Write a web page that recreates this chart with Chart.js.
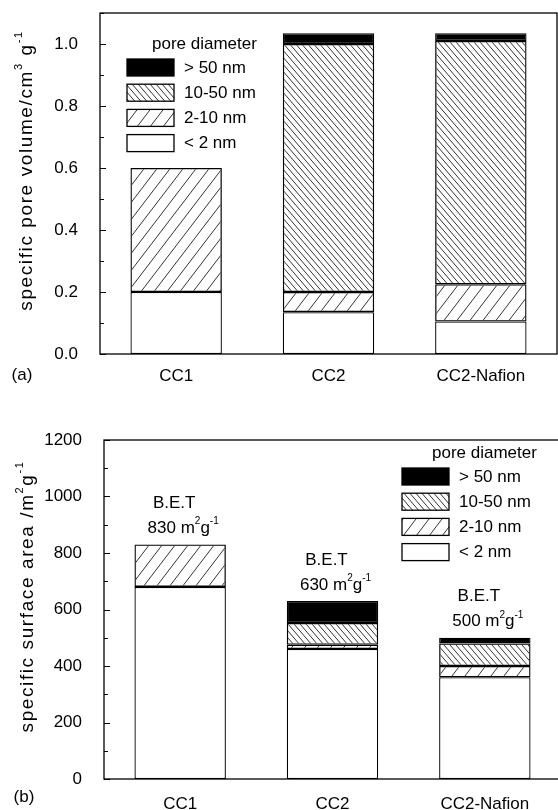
<!DOCTYPE html>
<html>
<head>
<meta charset="utf-8">
<script src="https://cdn.jsdelivr.net/npm/chart.js@4.4.1/dist/chart.umd.min.js"></script>
<style>
  html, body { margin: 0; padding: 0; background: #fff; overflow: hidden; }
  body { width: 558px; height: 810px; position: relative; }
  #volumeChart { position: absolute; left: 0; top: 0; }
  #areaChart { position: absolute; left: 0; top: 400px; }
</style>
</head>
<body>
<canvas id="volumeChart" width="558" height="400"></canvas>
<canvas id="areaChart" width="562" height="410"></canvas>
<script>
const samples = ['CC1', 'CC2', 'CC2-Nafion'];
const poreClasses = ['< 2 nm', '2-10 nm', '10-50 nm', '> 50 nm'];

// (a) specific pore volume, cm3/g
const volMicro = [0.2, 0.135, 0.105];
const volSmallMeso = [0.4, 0.065, 0.12];
const volLargeMeso = [0, 0.8, 0.785];
const volMacro = [0, 0.035, 0.025];

// (b) specific surface area, m2/g
const areaMicro = [680, 460, 360];
const areaSmallMeso = [150, 15, 40];
const areaLargeMeso = [0, 77, 80];
const areaMacro = [0, 78, 20];

const FONT = "'Liberation Sans', Arial, sans-serif";

// diagonal hatch tile, forward = '/', otherwise '\'
function hatch(w, h, forward) {
    const c = document.createElement('canvas');
    c.width = w;
    c.height = h;
    const g = c.getContext('2d');
    g.strokeStyle = '#333';
    g.lineWidth = 1;
    [-w, 0, w].forEach(dx => {
        g.beginPath();
        if (forward) {
            g.moveTo(dx, h);
            g.lineTo(dx + w, 0);
        } else {
            g.moveTo(dx, 0);
            g.lineTo(dx + w, h);
        }
        g.stroke();
    });
    return g.createPattern(c, 'repeat');
}

const fills = ['#ffffff', hatch(13, 17, true), hatch(6, 7, false), '#000000'];

function makeDatasets(series) {
    return series.map((data, i) => ({
        label: poreClasses[i],
        data: data,
        backgroundColor: fills[i],
        borderColor: '#000',
        borderWidth: 1.3,
        borderSkipped: false,
        barPercentage: 0.6,
        categoryPercentage: 1.0
    }));
}

// text with superscript parts: [[text, isSup], ...]
function drawRich(ctx, parts, x, y, size, align) {
    const supSize = Math.round(size * 0.6);
    let total = 0;
    const widths = parts.map(p => {
        ctx.font = (p[1] ? supSize : size) + 'px ' + FONT;
        const w = ctx.measureText(p[0]).width;
        total += w;
        return w;
    });
    let cx = align === 'center' ? x - total / 2 : x;
    ctx.textAlign = 'left';
    ctx.textBaseline = 'middle';
    parts.forEach((p, i) => {
        ctx.font = (p[1] ? supSize : size) + 'px ' + FONT;
        ctx.fillText(p[0], cx, p[1] ? y - size * 0.4 : y);
        cx += widths[i];
    });
}

const decorPlugin = {
    id: 'decor',
    afterDraw(chart, args, opts) {
        const ctx = chart.ctx;
        const area = chart.chartArea;
        const yScale = chart.scales.y;
        const xScale = chart.scales.x;
        ctx.save();
        ctx.fillStyle = '#000';
        ctx.strokeStyle = '#000';
        ctx.lineWidth = 1.3;
        ctx.strokeRect(area.left, area.top, area.right - area.left, area.bottom - area.top);

        // inward tick marks
        ctx.lineWidth = 1;
        yScale.ticks.forEach(t => {
            const py = Math.round(yScale.getPixelForValue(t.value)) + 0.5;
            const len = t.label ? 6 : 4;
            ctx.beginPath();
            ctx.moveTo(area.left, py);
            ctx.lineTo(area.left + len, py);
            ctx.stroke();
        });

        // axis title
        ctx.save();
        ctx.translate(opts.titleX, (area.top + area.bottom) / 2 - 13);
        ctx.rotate(-Math.PI / 2);
        if ('letterSpacing' in ctx) ctx.letterSpacing = '1.6px';
        drawRich(ctx, opts.title, 0, 0, 19, 'center');
        ctx.restore();

        // panel letter
        ctx.font = '17px ' + FONT;
        ctx.textAlign = 'center';
        ctx.textBaseline = 'middle';
        ctx.fillText(opts.panel, area.left + opts.panelDx, area.bottom + opts.panelDy);

        // legend
        const lg = opts.legend;
        const boxLeft = lg.fromRight ? area.right - lg.x : area.left + lg.x;
        ctx.font = '17px ' + FONT;
        ctx.textAlign = 'left';
        ctx.fillText('pore diameter', boxLeft + lg.titleDx, area.top + lg.titleDy);
        for (let k = 0; k < poreClasses.length; k++) {
            const i = poreClasses.length - 1 - k;
            const top = area.top + lg.firstTop + k * 25.2;
            ctx.fillStyle = fills[i];
            ctx.fillRect(boxLeft, top, 47, 17);
            ctx.strokeStyle = '#000';
            ctx.lineWidth = 1.3;
            ctx.strokeRect(boxLeft, top, 47, 17);
            ctx.fillStyle = '#000';
            ctx.fillText(poreClasses[i], boxLeft + 57, top + 9);
        }

        // B.E.T annotations above the stacked totals
        if (opts.bet) {
            const meta = chart.data.datasets;
            samples.forEach((s, j) => {
                let total = 0;
                meta.forEach(d => { total += d.data[j]; });
                const px = xScale.getPixelForValue(j);
                const py = yScale.getPixelForValue(total);
                ctx.font = '17px ' + FONT;
                ctx.textAlign = 'center';
                ctx.textBaseline = 'middle';
                ctx.fillText('B.E.T', px - 6, py - 41);
                drawRich(ctx, [[String(total) + ' m', false], ['2', true], ['g', false], ['-1', true]], px + 3, py - 16, 17, 'center');
            });
        }
        ctx.restore();
    }
};

function makeChart(id, series, yOpts, decor, layout) {
    const ctx = document.getElementById(id).getContext('2d');
    return new Chart(ctx, {
        type: 'bar',
        data: {
            labels: samples,
            datasets: makeDatasets(series)
        },
        options: {
            responsive: false,
            animation: false,
            layout: { padding: layout.padding },
            scales: {
                x: {
                    stacked: true,
                    grid: { display: false },
                    border: { display: false },
                    ticks: { color: '#000', font: { size: 17, family: FONT }, padding: layout.xPad },
                    afterFit: scale => { scale.height = layout.xHeight; }
                },
                y: {
                    stacked: true,
                    min: 0,
                    max: yOpts.max,
                    grid: { display: false },
                    border: { display: false },
                    ticks: {
                        stepSize: yOpts.step,
                        autoSkip: false,
                        color: '#000',
                        padding: 14,
                        font: { size: 17, family: FONT },
                        callback: yOpts.label
                    },
                    afterFit: scale => {
                        scale.width = layout.yWidth;
                        scale.paddingTop = 0;
                        scale.paddingBottom = 0;
                    }
                }
            },
            plugins: {
                legend: { display: false },
                tooltip: { enabled: false },
                decor: decor
            }
        },
        plugins: [decorPlugin]
    });
}

makeChart('volumeChart', [volMicro, volSmallMeso, volLargeMeso, volMacro],
    { max: 1.1, step: 0.1, label: v => (Math.round(v * 10) % 2 === 0 ? v.toFixed(1) : '') },
    {
        title: [['specific pore volume/cm', false], ['3', true], [' g', false], ['-1', true]],
        titleX: 27,
        panel: '(a)', panelDx: -78, panelDy: 21,
        legend: { fromRight: false, x: 27, titleDx: 25, titleDy: 31, firstTop: 46 },
        bet: false
    },
    { padding: { top: 13, right: 1, left: 0, bottom: 0 }, xHeight: 46, yWidth: 100, xPad: 4 });

makeChart('areaChart', [areaMicro, areaSmallMeso, areaLargeMeso, areaMacro],
    { max: 1200, step: 100, label: v => (v % 200 === 0 ? String(v) : '') },
    {
        title: [['specific surface area /m', false], ['2', true], ['g', false], ['-1', true]],
        titleX: 28,
        panel: '(b)', panelDx: -80, panelDy: 18,
        legend: { fromRight: true, x: 159, titleDx: 30, titleDy: 13, firstTop: 28 },
        bet: true
    },
    { padding: { top: 40, right: 1, left: 0, bottom: 0 }, xHeight: 31, yWidth: 104, xPad: 7 });
</script>
</body>
</html>
